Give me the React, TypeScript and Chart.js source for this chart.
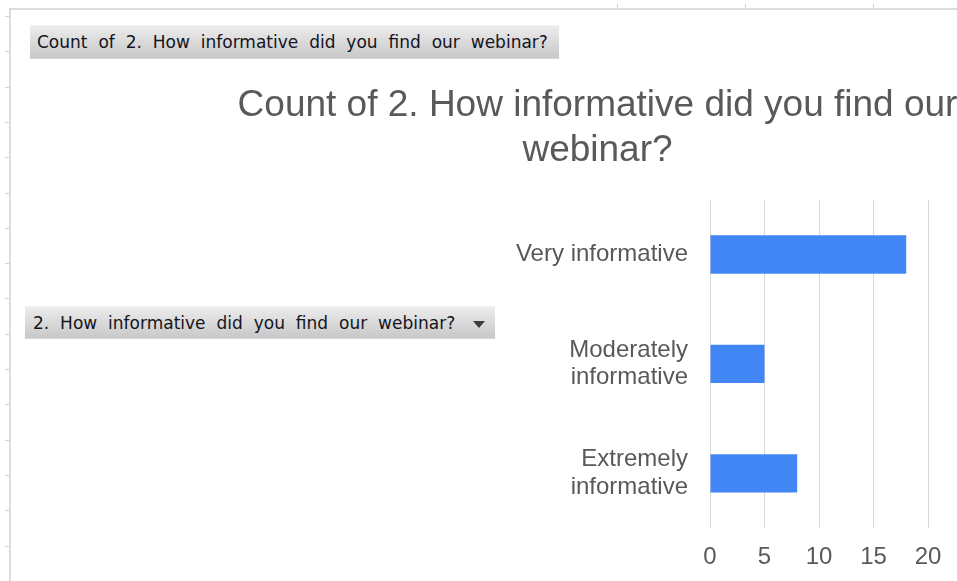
import React, { useEffect, useRef } from "react";
import { Chart, registerables } from "chart.js";

Chart.register(...registerables);

const chartTitle = ["Count of 2. How informative did you find our", "webinar?"];
const categories = [["Very informative"], ["Moderately", "informative"], ["Extremely", "informative"]];
const counts = [18, 5, 8];
const xMin = 0;
const xMax = 20;
const xStep = 5;
const valueButton = "Count of 2. How informative did you find our webinar?";
const axisButton = "2. How informative did you find our webinar?";

const leftTicks = Array.from({ length: 17 }, (_, i) => i);
const topTicks = [617, 745, 873];

const btnStyle: React.CSSProperties = {
  position: "absolute",
  background: "linear-gradient(#ececec, #c8c8c8)",
  borderTop: "1px solid #f2f2f2",
  borderBottom: "1px solid #d6d6d6",
  boxSizing: "border-box",
  fontFamily: "'DejaVu Sans', sans-serif",
  fontSize: 17,
  wordSpacing: 5.5,
  color: "#14141e",
  whiteSpace: "nowrap",
  display: "flex",
  alignItems: "center",
};

const FONT = "'Liberation Sans', Arial, sans-serif";

export default function App() {
  const ref = useRef<HTMLCanvasElement | null>(null);

  useEffect(() => {
    if (!ref.current) return;
    const chart = new Chart(ref.current, {
      type: "bar",
      data: {
        labels: categories as any,
        datasets: [
          {
            data: counts,
            backgroundColor: "#4285f4",
            borderWidth: 0,
            barPercentage: 0.35,
            categoryPercentage: 1,
          },
        ],
      },
      options: {
        indexAxis: "y",
        responsive: false,
        animation: false,
        layout: { padding: { left: 0, right: 0, top: 0, bottom: 0 } },
        plugins: {
          legend: { display: false },
          tooltip: { enabled: false },
          title: {
            display: true,
            text: chartTitle,
            color: "#595959",
            font: { family: FONT, size: 37, weight: "normal", lineHeight: 1.2 },
            padding: { top: 75, bottom: 27 },
          },
        },
        scales: {
          x: {
            min: xMin,
            max: xMax,
            ticks: {
              stepSize: xStep,
              color: "#595959",
              padding: 15,
              font: { family: FONT, size: 24 },
            },
            grid: { color: "#d9d9d9", lineWidth: 1, drawTicks: false },
            border: { display: false },
            afterFit: (scale: any) => {
              scale.height = 53;
            },
          },
          y: {
            ticks: {
              color: "#595959",
              padding: 22,
              font: { family: FONT, size: 24, lineHeight: 1.15 },
            },
            grid: { display: false, drawTicks: false },
            border: { display: false },
            afterFit: (scale: any) => {
              scale.width = 700;
            },
          },
          yRight: {
            type: "category",
            position: "right",
            display: true,
            ticks: { display: false },
            grid: { display: false, drawTicks: false },
            border: { display: false },
            afterFit: (scale: any) => {
              scale.width = 257;
            },
          },
        },
      },
    });
    return () => chart.destroy();
  }, []);

  return (
    <div style={{ position: "fixed", left: 0, top: 0, width: 957, height: 581, overflow: "hidden", background: "#fff" }}>
      <div style={{ position: "absolute", left: 9, top: 8, width: 960, height: 2, background: "#dcdcdc" }} />
      <div style={{ position: "absolute", left: 9, top: 8, width: 2, height: 600, background: "#dcdcdc" }} />
      {leftTicks.map((i) => (
        <div key={"l" + i} style={{ position: "absolute", left: 5, top: 16 + i * 35.3, width: 4, height: 1, background: "#d4d4d4" }} />
      ))}
      {topTicks.map((x) => (
        <div key={"t" + x} style={{ position: "absolute", left: x, top: 4, width: 1, height: 4, background: "#d4d4d4" }} />
      ))}
      <div style={{ position: "absolute", left: 10, top: 9, width: 1175, height: 572 }}>
        <canvas ref={ref} width={1175} height={572} style={{ display: "block" }} />
      </div>
      <div style={{ ...btnStyle, left: 30, top: 25, width: 529, height: 34, paddingLeft: 7 }}>{valueButton}</div>
      <div style={{ ...btnStyle, left: 25, top: 306, width: 470, height: 33, paddingLeft: 8 }}>
        {axisButton}
        <div
          style={{
            position: "absolute",
            left: 448,
            top: 14,
            width: 0,
            height: 0,
            borderLeft: "6px solid transparent",
            borderRight: "6px solid transparent",
            borderTop: "7px solid #3c3c3c",
          }}
        />
      </div>
    </div>
  );
}
